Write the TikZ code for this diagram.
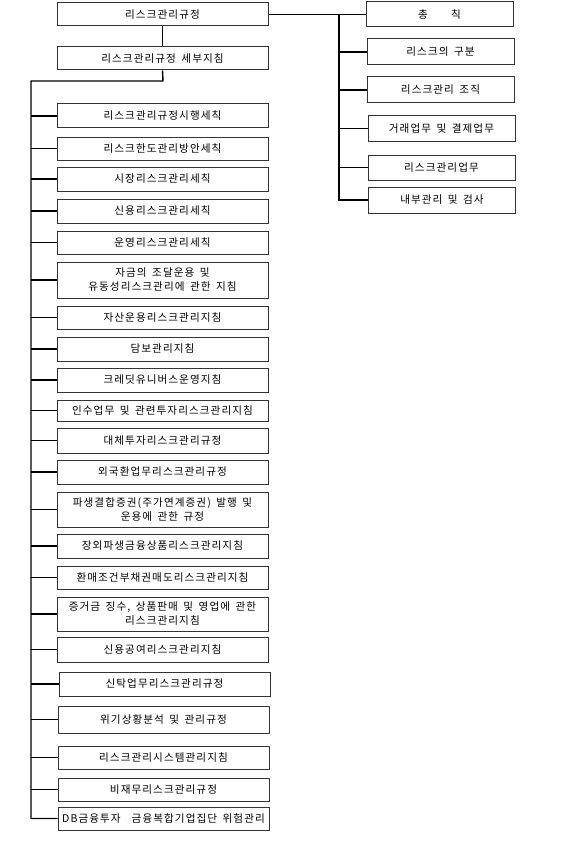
\documentclass[tikz,border=0pt]{standalone}
\usepackage{fontspec}
\newfontfamily\kr[LetterSpace=10,WordSpace=1.6]{Noto Sans CJK KR}
\begin{document}
\begin{tikzpicture}[x=1pt,y=-1pt,
  box/.style={draw=black!80, line width=1pt, fill=white, inner sep=0pt,
    align=center, font=\kr\fontsize{10.6}{14}\selectfont},
  lbox/.style={box, minimum width=211},
  rbox/.style={box, minimum width=147},
  conn/.style={draw=black, line width=1.4pt}]
\useasboundingbox (0,0) rectangle (562,848);
% top
\node[lbox, minimum height=23] (top) at (162.5,14.5) {리스크관리규정};
\node[lbox, minimum height=23] (sub) at (162.5,58.5) {리스크관리규정 세부지침};
% right column
\node[rbox, minimum height=25] (r1) at (439.5,14.5) {총\hspace{2.2em}칙};
\node[rbox, minimum height=26] (r2) at (440.5,52) {리스크의 구분};
\node[rbox, minimum height=26] (r3) at (440.5,90) {리스크관리 조직};
\node[rbox, minimum height=25] (r4) at (441.5,128.5) {거래업무 및 결제업무};
\node[rbox, minimum height=25] (r5) at (441.5,167.5) {리스크관리업무};
\node[rbox, minimum height=26] (r6) at (442,200) {내부관리 및 검사};
% left column
\node[lbox, minimum height=24] (l1) at (162.5,116) {리스크관리규정시행세칙};
\node[lbox, minimum height=23] (l2) at (162.5,148.5) {리스크한도관리방안세칙};
\node[lbox, minimum height=24] (l3) at (162.5,179) {시장리스크관리세칙};
\node[lbox, minimum height=24] (l4) at (162.5,211) {신용리스크관리세칙};
\node[lbox, minimum height=23] (l5) at (162.5,242.5) {운영리스크관리세칙};
\node[lbox, minimum height=36] (l6) at (162.5,280) {자금의 조달운용 및\\유동성리스크관리에 관한 지침};
\node[lbox, minimum height=23] (l7) at (162.5,317.5) {자산운용리스크관리지침};
\node[lbox, minimum height=24] (l8) at (162.5,349) {담보관리지침};
\node[lbox, minimum height=24] (l9) at (162.5,380) {크레딧유니버스운영지침};
\node[lbox, minimum height=21] (l10) at (162.5,410.5) {인수업무 및 관련투자리스크관리지침};
\node[lbox, minimum height=25] (l11) at (162.5,440.5) {대체투자리스크관리규정};
\node[lbox, minimum height=24] (l12) at (162.5,472) {외국환업무리스크관리규정};
\node[lbox, minimum height=35] (l13) at (162.5,509.5) {파생결합증권(주가연계증권) 발행 및\\운용에 관한 규정};
\node[lbox, minimum height=24] (l14) at (162.5,546) {장외파생금융상품리스크관리지침};
\node[lbox, minimum height=23] (l15) at (162.5,577.5) {환매조건부채권매도리스크관리지침};
\node[lbox, minimum height=34] (l16) at (162.5,614) {증거금 징수, 상품판매 및 영업에 관한\\리스크관리지침};
\node[lbox, minimum height=25] (l17) at (162.5,649.5) {신용공여리스크관리지침};
\node[lbox, minimum height=24] (l18) at (164.5,684) {신탁업무리스크관리규정};
\node[lbox, minimum height=27] (l19) at (163.5,719.5) {위기상황분석 및 관리규정};
\node[lbox, minimum height=23] (l20) at (163.5,757.5) {리스크관리시스템관리지침};
\node[lbox, minimum height=23] (l21) at (163.5,789.5) {비재무리스크관리규정};
\node[lbox, minimum height=23] (l22) at (163.5,818.5) {DB금융투자 \ 금융복합기업집단 위험관리};
% coordinates
\coordinate (rt) at (339,14.5);
\coordinate (lt) at (31,81);
\coordinate (lj) at (163,81);
% connectors: top to sub
\draw[conn] (top.south) -- (sub.north);
% right tree
\draw[conn] (top.east) -- (r1.west);
\draw[conn] (rt) -- (r6.west -| rt) -- (r6.west);
\foreach \n in {r2,r3,r4,r5} {\draw[conn] (\n.west -| rt) -- (\n.west);}
% left tree
\draw[conn] (sub.south) -- (lj) -- (lt) -- (l22.west -| lt) -- (l22.west);
\foreach \n in {l1,l2,l3,l4,l5,l6,l7,l8,l9,l10,l11,l12,l13,l14,l15,l16,l17,l18,l19,l20,l21} {\draw[conn] (\n.west -| lt) -- (\n.west);}
\end{tikzpicture}
\end{document}
